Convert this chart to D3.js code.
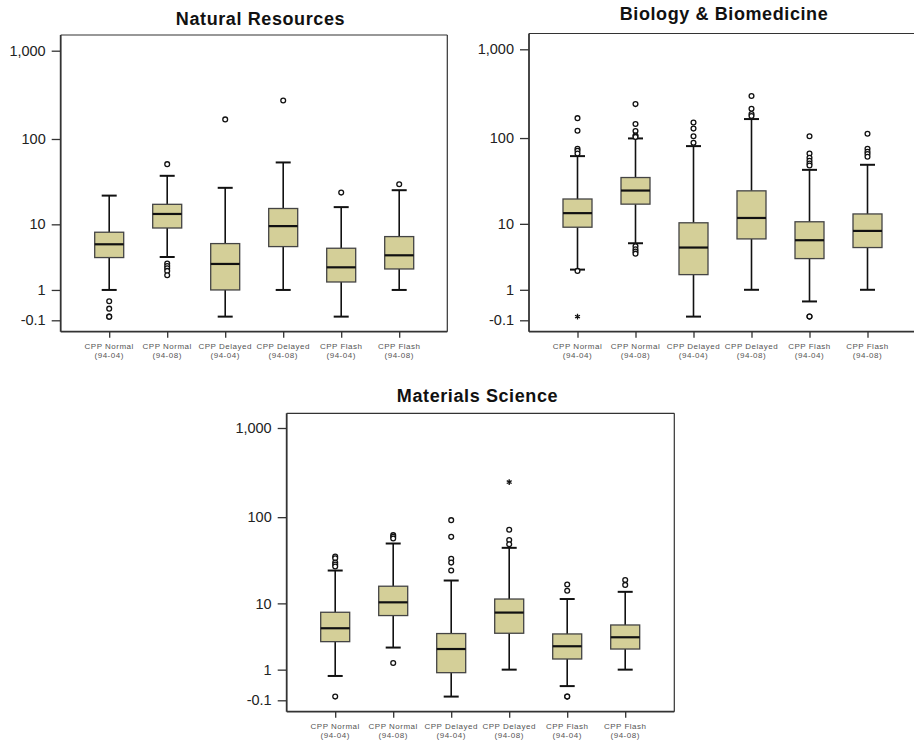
<!DOCTYPE html>
<html><head><meta charset="utf-8">
<script src="https://cdn.jsdelivr.net/npm/d3@7"></script>
<style>html,body{margin:0;padding:0;background:#fff;}</style>
</head><body>
<script>
// ---- data ----
const catLine1 = ["CPP Normal","CPP Normal","CPP Delayed","CPP Delayed","CPP Flash","CPP Flash"];
const catLine2 = ["(94-04)","(94-08)","(94-04)","(94-08)","(94-04)","(94-08)"];
const yTickValues = [-0.1, 1, 10, 100, 1000];
const yTickLabels = ["-0.1","1","10","100","1,000"];
const titles = ["Natural Resources","Biology & Biomedicine","Materials Science"];

// boxes: [lower whisker, Q1, median, Q3, upper whisker]
const nrBoxes = [[1.0,3.64,5.55,7.96,22.2],[3.71,9.0,13.4,17.5,37.8],[0,1.0,2.93,5.67,27.4],[1.0,5.17,9.5,15.6,53.9],[0,1.46,2.60,4.91,16.2],[1.0,2.45,3.92,7.0,25.7]];
const nrOutliers = [[0.49,0.23,0,0],[51.5,2.97,2.73,2.51,2.28,1.93],[167],[274],[24.1],[30.2]];
const nrExtremes = [[],[],[],[],[],[]];

const bbBoxes = [[2.37,9.08,13.5,19.9,62.3],[5.66,17.3,25.0,35.4,99],[0,1.96,4.96,10.3,81],[1.0,6.45,11.8,24.8,164],[0.48,3.48,6.2,10.6,43.4],[1.0,4.96,8.16,13.2,49.6]];
const bbOutliers = [[168,121,75.5,71.6,66.8,2.26],[242,144,120,107,103,5.16,4.70,4.37,4.09],[150,128,105,88.4],[298,214,187,177],[105,66.8,59.6,55.1,51.4,48.7,0,0],[112,75.5,69.8,65.7,61.3]];
const bbExtremes = [[0],[],[],[],[],[]];

const msBoxes = [[0.70,3.11,4.80,7.75,24.6],[2.53,7.04,10.3,16.1,50.3],[0,0.85,2.40,4.06,18.8],[1.0,4.10,7.68,11.3,44.9],[0.31,1.63,2.65,4.01,11.3],[1.0,2.40,3.60,5.31,13.8]];
const msOutliers = [[35.7,34,30.4,28.9,27.4,0],[62.6,59.9,57.4,1.37],[92.6,59.9,33.6,30.4,24.6],[72,55,49.4],[16.9,14.2,0,0],[19.1,16.7]];
const msExtremes = [[],[],[],[248],[],[]];

// ---- layout ----
const W = 914, H = 740;
const panels = [
  {boxes:nrBoxes, outl:nrOutliers, ext:nrExtremes, title:titles[0], left:60.7, right:447.3, top:35, bottom:331.7, yHi:50.7, yLo:320.3, tx:260.5, ty:25},
  {boxes:bbBoxes, outl:bbOutliers, ext:bbExtremes, title:titles[1], left:529, right:920, top:33.5, bottom:331.7, yHi:49.3, yLo:320.3, tx:724, ty:20},
  {boxes:msBoxes, outl:msOutliers, ext:msExtremes, title:titles[2], left:286.7, right:674.3, top:413.3, bottom:711.7, yHi:428, yLo:700.3, tx:477.5, ty:401.5}
];

const svg = d3.select("body").append("svg").attr("width",W).attr("height",H)
  .style("font-family","'Liberation Sans', Arial, sans-serif");

const fill = "#d4cf98";
const boxW = 29, capW = 15;

panels.forEach(p => {
  const g = svg.append("g");
  const y = d3.scaleSymlog().constant(1).domain([-0.1, 1000]).range([p.yLo, p.yHi]);
  const x = d3.scalePoint().domain(d3.range(6)).range([p.left + 48.5, p.left + 48.5 + 5*58]);

  // title
  g.append("text").attr("x",p.tx).attr("y",p.ty).attr("text-anchor","middle")
    .attr("font-weight","bold").attr("font-size",18).attr("letter-spacing","0.6px").attr("fill","#111").text(p.title);

  // frame top/right thin
  g.append("line").attr("x1",p.left).attr("x2",p.right).attr("y1",p.top).attr("y2",p.top).attr("stroke","#333").attr("stroke-width",1.2);
  g.append("line").attr("x1",p.right).attr("x2",p.right).attr("y1",p.top).attr("y2",p.bottom).attr("stroke","#333").attr("stroke-width",1.2);

  // y axis
  const yAxis = d3.axisLeft(y).tickValues(yTickValues).tickFormat((d,i)=>yTickLabels[i]).tickSize(9).tickPadding(6);
  const ya = g.append("g").attr("transform",`translate(${p.left},0)`).call(yAxis);
  ya.select(".domain").remove();
  ya.selectAll(".tick line").attr("stroke","#333").attr("stroke-width",1.3);
  ya.selectAll(".tick text").attr("font-size",14.5).attr("fill","#222").attr("font-family","'Liberation Sans', Arial, sans-serif");
  g.append("line").attr("x1",p.left).attr("x2",p.left).attr("y1",p.top).attr("y2",p.bottom).attr("stroke","#333").attr("stroke-width",1.8);

  // x axis
  const xAxis = d3.axisBottom(x).tickSize(6).tickFormat(()=> "");
  const xa = g.append("g").attr("transform",`translate(0,${p.bottom})`).call(xAxis);
  xa.select(".domain").remove();
  xa.selectAll(".tick line").attr("stroke","#333").attr("stroke-width",1.3);
  g.append("line").attr("x1",p.left).attr("x2",p.right).attr("y1",p.bottom).attr("y2",p.bottom).attr("stroke","#333").attr("stroke-width",1.8);
  d3.range(6).forEach(i => {
    g.append("text").attr("x",x(i)).attr("y",p.bottom+17.5).attr("text-anchor","middle")
      .attr("font-size",8).attr("letter-spacing","0.5px").attr("fill","#555").text(catLine1[i]);
    g.append("text").attr("x",x(i)).attr("y",p.bottom+26.5).attr("text-anchor","middle")
      .attr("font-size",8).attr("letter-spacing","0.5px").attr("fill","#555").text(catLine2[i]);
  });

  // boxes
  p.boxes.forEach((b,i) => {
    const cx = x(i);
    const [lo,q1,md,q3,hi] = b;
    g.append("line").attr("x1",cx).attr("x2",cx).attr("y1",y(hi)).attr("y2",y(q3)).attr("stroke","#111").attr("stroke-width",1.6);
    g.append("line").attr("x1",cx).attr("x2",cx).attr("y1",y(q1)).attr("y2",y(lo)).attr("stroke","#111").attr("stroke-width",1.6);
    g.append("line").attr("x1",cx-capW/2).attr("x2",cx+capW/2).attr("y1",y(hi)).attr("y2",y(hi)).attr("stroke","#111").attr("stroke-width",2);
    g.append("line").attr("x1",cx-capW/2).attr("x2",cx+capW/2).attr("y1",y(lo)).attr("y2",y(lo)).attr("stroke","#111").attr("stroke-width",2);
    g.append("rect").attr("x",cx-boxW/2).attr("width",boxW).attr("y",y(q3)).attr("height",y(q1)-y(q3))
      .attr("fill",fill).attr("stroke","#444").attr("stroke-width",1.3);
    g.append("line").attr("x1",cx-boxW/2).attr("x2",cx+boxW/2).attr("y1",y(md)).attr("y2",y(md)).attr("stroke","#111").attr("stroke-width",2.2);
    p.outl[i].forEach(v => {
      g.append("circle").attr("cx",cx).attr("cy",y(v)).attr("r",2.4).attr("fill","#fff").attr("stroke","#111").attr("stroke-width",1.3);
    });
    p.ext[i].forEach(v => {
      g.append("path").attr("transform",`translate(${cx},${y(v)})`).attr("d",d3.symbol(d3.symbolAsterisk,22)())
        .attr("fill","none").attr("stroke","#111").attr("stroke-width",1.3);
    });
  });
});
</script>
</body></html>
